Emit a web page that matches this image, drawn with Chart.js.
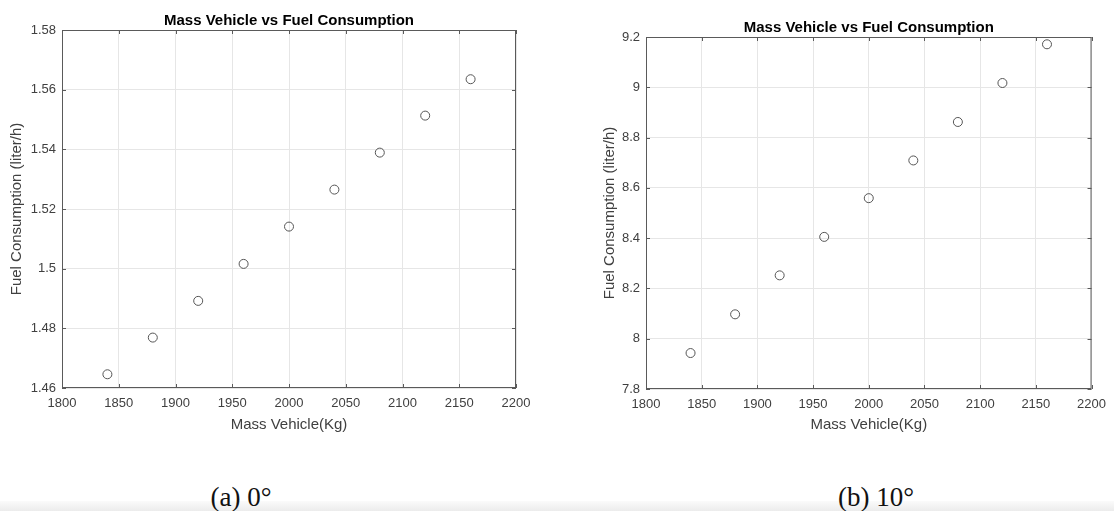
<!DOCTYPE html>
<html>
<head>
<meta charset="utf-8">
<script src="https://cdn.jsdelivr.net/npm/chart.js@4"></script>
<style>
  html, body { margin: 0; padding: 0; background: #fff; }
  body { width: 1114px; height: 511px; position: relative; overflow: hidden; }
  .panel { position: absolute; top: 0; height: 440px; }
  #left { left: 0; width: 560px; }
  #right { left: 560px; width: 554px; }
  .caption { position: absolute; top: 482px; font-family: "Liberation Serif", "DejaVu Serif", serif; font-size: 27px; color: #111; transform: translateX(-50%); white-space: nowrap; }
  .shade { position: absolute; left: 0; right: 0; top: 501px; height: 10px; background: linear-gradient(#fbfbfb, #ececec); }
</style>
</head>
<body>
<div class="panel" id="left"><canvas id="chartA"></canvas></div>
<div class="panel" id="right"><canvas id="chartB"></canvas></div>
<div class="shade"></div>
<div class="caption" style="left:241px">(a) 0°</div>
<div class="caption" style="left:876px">(b) 10°</div>
<script>
// data
var mass = [1840, 1880, 1920, 1960, 2000, 2040, 2080, 2120, 2160];
var fuel0 = [1.4646, 1.4769, 1.4892, 1.5016, 1.5141, 1.5265, 1.5389, 1.5513, 1.5635];
var fuel10 = [7.943, 8.097, 8.252, 8.405, 8.559, 8.709, 8.862, 9.017, 9.171];

var xTicks = [1800, 1850, 1900, 1950, 2000, 2050, 2100, 2150, 2200];
var yTicks0 = [1.46, 1.48, 1.50, 1.52, 1.54, 1.56, 1.58];
var yTicks10 = [7.8, 8.0, 8.2, 8.4, 8.6, 8.8, 9.0, 9.2];

var titleText = 'Mass Vehicle vs Fuel Consumption';
var xTitle = 'Mass Vehicle(Kg)';
var yTitle = 'Fuel Consumption (liter/h)';

var FONT = '"Liberation Sans", Arial, sans-serif';

// matlab style box with inward ticks on all four sides
var boxPlugin = {
    id: 'box',
    afterDraw: function(chart) {
        var a = chart.chartArea, ctx = chart.ctx;
        var xs = chart.scales.x, ys = chart.scales.y;
        ctx.save();
        ctx.strokeStyle = '#5a5a5a';
        ctx.lineWidth = 1;
        ctx.strokeRect(a.left + 0.5, a.top + 0.5, a.right - a.left - 1, a.bottom - a.top - 1);
        ctx.beginPath();
        xs.ticks.forEach(function(t) {
            var px = Math.round(xs.getPixelForValue(t.value)) + 0.5;
            ctx.moveTo(px, a.bottom); ctx.lineTo(px, a.bottom - 4);
            ctx.moveTo(px, a.top); ctx.lineTo(px, a.top + 4);
        });
        ys.ticks.forEach(function(t) {
            var py = Math.round(ys.getPixelForValue(t.value)) + 0.5;
            ctx.moveTo(a.left, py); ctx.lineTo(a.left + 4, py);
            ctx.moveTo(a.right, py); ctx.lineTo(a.right - 4, py);
        });
        ctx.stroke();
        ctx.restore();
    }
};

function fmt(v) {
    return String(parseFloat(Number(v).toFixed(2)));
}

function makeChart(id, values, yTicks, opt) {
    return new Chart(document.getElementById(id), {
        type: 'scatter',
        data: {
            datasets: [{
                data: mass.map(function(m, i) { return { x: m, y: values[i] }; }),
                pointStyle: 'circle',
                pointRadius: 4.5,
                pointHoverRadius: 4.5,
                borderColor: '#555',
                backgroundColor: 'rgba(255,255,255,0)',
                borderWidth: 1
            }]
        },
        options: {
            responsive: true, maintainAspectRatio: false, animation: false,
            layout: { padding: { left: 0, right: opt.right, top: 0, bottom: 0 } },
            plugins: {
                legend: { display: false },
                tooltip: { enabled: false },
                title: {
                    display: true, text: titleText, fullSize: false,
                    color: '#000', font: { family: FONT, size: 15, weight: 'bold' },
                    padding: { top: opt.titleTop, bottom: 0 }
                }
            },
            scales: {
                x: {
                    type: 'linear', min: 1800, max: 2200,
                    afterBuildTicks: function(s) { s.ticks = xTicks.map(function(v) { return { value: v }; }); },
                    afterFit: function(s) { s.height = opt.xh; },
                    grid: { color: '#e6e6e6', drawTicks: false },
                    border: { display: false },
                    ticks: { color: '#404040', padding: 8, maxRotation: 0, font: { family: FONT, size: 13 }, callback: function(v) { return String(v); } },
                    title: { display: true, text: xTitle, color: '#404040', font: { family: FONT, size: 15 }, padding: { top: 0, bottom: 6 } }
                },
                y: {
                    type: 'linear', min: yTicks[0], max: yTicks[yTicks.length - 1],
                    afterBuildTicks: function(s) { s.ticks = yTicks.map(function(v) { return { value: v }; }); },
                    afterFit: function(s) { s.width = opt.yw; },
                    grid: { color: '#e6e6e6', drawTicks: false },
                    border: { display: false },
                    ticks: { color: '#404040', padding: 6, font: { family: FONT, size: 13 }, callback: fmt },
                    title: { display: true, text: yTitle, color: '#404040', font: { family: FONT, size: 15 }, padding: { top: opt.yTitlePad, bottom: 0 } }
                }
            }
        },
        plugins: [boxPlugin]
    });
}

makeChart('chartA', fuel0, yTicks0, { right: 44, titleTop: 12, xh: 52, yw: 62, yTitlePad: 8 });
makeChart('chartB', fuel10, yTicks10, { right: 22, titleTop: 19, xh: 51, yw: 86, yTitlePad: 41 });
</script>
</body>
</html>
